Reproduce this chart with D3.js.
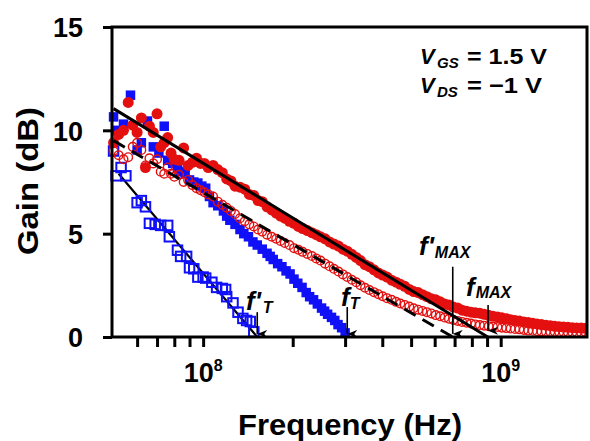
<!DOCTYPE html>
<html><head><meta charset="utf-8">
<script src="https://cdn.jsdelivr.net/npm/d3@7"></script>
<style>
body{margin:0;background:#fff}
svg{display:block}
text{font-family:"Liberation Sans",Arial,Helvetica,sans-serif;font-weight:bold;fill:#000}
</style>
</head><body>
<svg id="chart" width="590" height="441"></svg>
<script>
// ---------------- data ----------------
const yTicks = [0, 5, 10, 15];
const xMajorTicks = [1e8, 1e9];
const xMinorTicks = [6e7, 7e7, 8e7, 9e7, 2e8, 3e8, 4e8, 5e8, 6e8, 7e8, 8e8, 9e8];
const xTickExponents = [8, 9];

// blue open squares (h21 corrected, f'T) — frequency in MHz, gain in dB
const openSqFreq = [50, 51, 53, 55, 60, 62, 64, 66, 69, 72, 76, 77, 82, 84, 88, 90, 93, 96, 100, 102, 107, 111, 116, 119, 120, 126, 131, 136, 140, 144, 148];
const openSqGain = [9.0, 7.8, 8.2, 7.8, 6.5, 6.6, 6.3, 5.5, 5.45, 5.4, 5.4, 4.85, 4.2, 3.9, 3.9, 3.35, 3.3, 2.9, 2.9, 2.85, 2.65, 2.4, 2.35, 2.3, 1.95, 1.65, 1.2, 0.9, 0.8, 0.75, 0.25];

// blue filled squares (h21, fT)
const filledSqFreq = [50, 51, 54, 57, 60, 62, 65, 68, 71, 74, 76, 79, 82, 84, 87, 90, 93, 96, 99, 102, 105, 108, 112, 117, 120, 123, 128, 133, 137, 142, 147, 152, 158, 164, 168, 172, 178, 184, 190, 196, 202, 208, 215, 222, 228, 235, 242, 250, 256, 262, 270, 277, 284, 292, 300];
const filledSqGain = [10.65, 10.0, 10.3, 11.7, 9.05, 9.4, 10.45, 9.2, 8.9, 10.2, 8.55, 8.4, 8.2, 8.0, 7.9, 7.6, 7.5, 7.45, 7.3, 7.2, 6.8, 6.5, 6.35, 6.1, 5.85, 5.65, 5.45, 5.2, 5.0, 4.85, 4.6, 4.45, 4.25, 4.05, 3.9, 3.75, 3.55, 3.4, 3.2, 3.05, 2.8, 2.6, 2.4, 2.15, 1.95, 1.8, 1.6, 1.4, 1.25, 1.1, 0.95, 0.8, 0.6, 0.45, 0.2];

// red circles (U, fMAX filled / corrected f'MAX open)
const redFreq = [50, 52, 54, 56, 58, 60, 62, 64, 66, 68,
  70, 72, 74, 76, 78, 80, 83, 86, 89, 92,
  95, 98, 101, 104, 108, 112, 116, 120, 124, 128,
  133, 138, 143, 148, 153, 158, 164, 170, 176, 182,
  188, 195, 202, 209, 216, 224, 232, 240, 248, 257,
  266, 275, 285, 295, 305, 316, 327, 338, 350, 362,
  375, 388, 401, 415, 430, 445, 460, 476, 493, 510,
  528, 546, 565, 585, 605, 626, 648, 670, 693, 717,
  742, 768, 795, 822, 851, 880, 911, 942, 975, 1009,
  1044, 1080, 1117, 1156, 1196, 1238, 1281, 1325, 1371, 1419,
  1468, 1519, 1572, 1626, 1683, 1741, 1802, 1864, 1930];
const redFilledGain = [9.4, 9.8, 10.0, 11.35, 10.25, 9.9, 10.6, 8.2, 10.2, 9.9,
  10.8, 9.2, 9.4, 9.65, 8.9, 8.6, 8.55, 9.15, 8.3, 8.45,
  8.65, 8.4, 8.4, 8.2, 8.3, 8.1, 7.95, 7.65, 7.55, 7.3,
  7.25, 7.15, 6.9, 6.85, 6.6, 6.55, 6.3, 6.15, 6.0, 5.85,
  5.75, 5.6, 5.5, 5.35, 5.25, 5.15, 5.05, 4.95, 4.85, 4.75,
  4.6, 4.5, 4.4, 4.25, 4.15, 4.0, 3.85, 3.7, 3.5, 3.4,
  3.25, 3.1, 3.0, 2.9, 2.75, 2.65, 2.55, 2.45, 2.3, 2.2,
  2.15, 2.05, 1.95, 1.85, 1.8, 1.7, 1.6, 1.55, 1.45, 1.4,
  1.3, 1.25, 1.2, 1.17, 1.15, 1.1, 1.05, 1.0, 0.97, 0.93,
  0.88, 0.84, 0.8, 0.77, 0.73, 0.7, 0.66, 0.63, 0.6, 0.57,
  0.55, 0.52, 0.5, 0.48, 0.47, 0.45, 0.44, 0.43, 0.42];
const redOpenGain = [9.0, 8.8, 8.6, 8.7, 9.2, 9.4, 9.05, 8.3, 8.65, 8.4,
  8.6, 8.0, 7.9, 8.2, 7.9, 7.75, 7.85, 7.5, 7.6, 7.35,
  7.2, 7.1, 7.0, 6.9, 6.8, 6.55, 6.4, 6.25, 6.1, 5.95,
  5.75, 5.6, 5.45, 5.35, 5.2, 5.1, 4.95, 4.85, 4.75, 4.65,
  4.55, 4.45, 4.3, 4.22, 4.12, 4.02, 3.92, 3.8, 3.7, 3.55,
  3.42, 3.3, 3.17, 3.03, 2.9, 2.77, 2.65, 2.5, 2.38, 2.27,
  2.17, 2.07, 1.97, 1.88, 1.8, 1.7, 1.62, 1.55, 1.47, 1.39,
  1.32, 1.26, 1.2, 1.14, 1.06, 1.0, 0.94, 0.88, 0.83, 0.78,
  0.73, 0.69, 0.65, 0.61, 0.58, 0.55, 0.52, 0.5, 0.48, 0.45,
  0.43, 0.41, 0.39, 0.37, 0.34, 0.31, 0.3, 0.28, 0.27, 0.26,
  0.25, 0.25, 0.24, 0.24, 0.23, 0.23, 0.22, 0.22, 0.22];

// extrapolation lines (MHz, dB)
const fMaxLineFreq = [50, 905];       const fMaxLineGain = [11.05, 0];
const fMaxPrimeLineFreq = [50, 690];  const fMaxPrimeLineGain = [9.5, 0];
const fTPrimeLineFreq = [52, 152];    const fTPrimeLineGain = [7.9, 0];

// annotation arrows: frequency (MHz), from gain -> to gain
const arrowNames = ["f'T", "fT", "f'MAX", "fMAX"];
const arrowFreq = [152, 305, 690, 907];
const arrowFromGain = [1.2, 1.45, 3.4, 1.55];
const arrowToGain = [0.15, 0.15, 0.15, 0.3];

const biasLines = [["GS", "= 1.5 V"], ["DS", "= \u22121 V"]];

// ---------------- drawing ----------------
const svg = d3.select("#chart");
const L = 112, R = 587, T = 27, B = 337;
const x = d3.scaleLog().domain([4.94e7, 1.95e9]).range([L, R]);
const y = d3.scaleLinear().domain([0, 15]).range([B, T]);
const hz = mhz => mhz * 1e6;

const defs = svg.append("defs");
defs.append("clipPath").attr("id", "clipR").append("rect")
  .attr("x", 0).attr("y", 0).attr("width", R).attr("height", 441);
defs.append("marker").attr("id", "arr").attr("markerUnits", "userSpaceOnUse")
  .attr("markerWidth", 8).attr("markerHeight", 10).attr("refX", 4).attr("refY", 10)
  .attr("orient", "auto-start-reverse").attr("viewBox", "0 0 8 10")
  .append("path").attr("d", "M0,0 L4,10 L8,0 L4,3 Z").attr("fill", "#000");

// axes ticks
const xAxis = d3.axisBottom(x).tickValues(xMinorTicks.concat(xMajorTicks)).tickSize(10).tickFormat("");
const gx = svg.append("g").attr("transform", `translate(0,${B})`).call(xAxis);
gx.select(".domain").remove();
gx.selectAll(".tick line").attr("stroke", "#000").attr("stroke-width", 3);

const yAxis = d3.axisLeft(y).tickValues(yTicks).tickSize(9).tickPadding(20).tickFormat(d3.format("d"));
const gy = svg.append("g").attr("transform", `translate(${L},0)`).call(yAxis);
gy.select(".domain").remove();
gy.selectAll(".tick line").attr("stroke", "#000").attr("stroke-width", 3);
gy.selectAll(".tick text").attr("font-size", 27).attr("font-family", "'Liberation Sans',Arial,sans-serif")
  .attr("font-weight", "bold").attr("fill", "#000").attr("dy", "0.36em");

// x tick labels 10^n
xMajorTicks.forEach((v, i) => {
  const t = svg.append("text").attr("x", x(v)).attr("y", 382).attr("text-anchor", "middle").attr("font-size", 27);
  t.append("tspan").text("10");
  t.append("tspan").attr("font-size", 16).attr("dy", -11).text(xTickExponents[i]);
});

// data layer
const data = svg.append("g").attr("clip-path", "url(#clipR)");
const blue = "#1010f8", red = "#e41010";

const openSq = openSqFreq.map((f, i) => [f, openSqGain[i]]);
const filledSq = filledSqFreq.map((f, i) => [f, filledSqGain[i]]);
const redF = redFreq.map((f, i) => [f, redFilledGain[i]]);
const redO = redFreq.map((f, i) => [f, redOpenGain[i]]);

// f'T extrapolation line drawn beneath open squares
const line = d3.line().x(d => x(hz(d[0]))).y(d => y(d[1]));
const mk = (fs, gs) => fs.map((f, i) => [f, gs[i]]);
svg.insert("path", "g").attr("d", line(mk(fTPrimeLineFreq, fTPrimeLineGain))).attr("stroke", "#000").attr("stroke-width", 2.2)
  .attr("fill", "none");

const s1 = 9.5;
data.append("g").selectAll("rect").data(openSq).join("rect")
  .attr("x", d => x(hz(d[0])) - s1 / 2).attr("y", d => y(d[1]) - s1 / 2)
  .attr("width", s1).attr("height", s1).attr("fill", "none").attr("stroke", blue).attr("stroke-width", 2);

const s2 = 9.5;
data.append("g").selectAll("rect").data(filledSq).join("rect")
  .attr("x", d => x(hz(d[0])) - s2 / 2).attr("y", d => y(d[1]) - s2 / 2)
  .attr("width", s2).attr("height", s2).attr("fill", blue);

data.append("g").selectAll("circle").data(redF).join("circle")
  .attr("cx", d => x(hz(d[0]))).attr("cy", d => y(d[1])).attr("r", 5.5).attr("fill", red);

data.append("g").selectAll("circle").data(redO).join("circle")
  .attr("cx", d => x(hz(d[0]))).attr("cy", d => y(d[1])).attr("r", 4.3)
  .attr("fill", "none").attr("stroke", red).attr("stroke-width", 1.4);

// extrapolation lines
svg.append("path").attr("d", line(mk(fMaxLineFreq, fMaxLineGain))).attr("stroke", "#000").attr("stroke-width", 3).attr("fill", "none");
svg.append("path").attr("d", line(mk(fMaxPrimeLineFreq, fMaxPrimeLineGain))).attr("stroke", "#000").attr("stroke-width", 3)
  .attr("stroke-dasharray", "13,8").attr("fill", "none");

// frame
svg.append("rect").attr("x", L).attr("y", T).attr("width", R - L).attr("height", B - T)
  .attr("fill", "none").attr("stroke", "#000").attr("stroke-width", 3);

// arrows
arrowNames.forEach((n, i) => {
  svg.append("line").attr("x1", x(hz(arrowFreq[i]))).attr("x2", x(hz(arrowFreq[i])))
    .attr("y1", y(arrowFromGain[i])).attr("y2", y(arrowToGain[i]))
    .attr("stroke", "#000").attr("stroke-width", 1.6).attr("marker-end", "url(#arr)");
});

// f labels
function fLabel(xf, yb, prime, sub, subDx, subDy) {
  const t = svg.append("text").attr("x", xf).attr("y", yb).attr("font-style", "italic");
  t.append("tspan").attr("font-size", 26).text(prime ? "f'" : "f");
  t.append("tspan").attr("font-size", 16).attr("dx", subDx).attr("dy", subDy).text(sub);
}
fLabel(246, 310, true, "T", 2, 3);
fLabel(341, 306, false, "T", 0, 3);
fLabel(419, 255, true, "MAX", 1, 3);
fLabel(466, 296, false, "MAX", 1, 2);

// bias annotation
biasLines.forEach((b, i) => {
  const yb = 64 + i * 29;
  svg.append("text").attr("x", 420).attr("y", yb).attr("font-size", 22).attr("font-style", "italic").text("V");
  svg.append("text").attr("x", 437).attr("y", yb + 4).attr("font-size", 15).attr("font-style", "italic").text(b[0]);
  svg.append("text").attr("x", 467).attr("y", yb).attr("font-size", 22)
    .attr("textLength", i === 0 ? 80 : 75).attr("lengthAdjust", "spacingAndGlyphs").text(b[1]);
});

// axis titles
svg.append("text").attr("x", 350).attr("y", 435).attr("text-anchor", "middle").attr("font-size", 29)
  .attr("textLength", 224).attr("lengthAdjust", "spacingAndGlyphs").text("Frequency (Hz)");
svg.append("text").attr("transform", "translate(38,181) rotate(-90)").attr("text-anchor", "middle").attr("font-size", 29)
  .attr("textLength", 148).attr("lengthAdjust", "spacingAndGlyphs").text("Gain (dB)");
</script>
</body></html>
